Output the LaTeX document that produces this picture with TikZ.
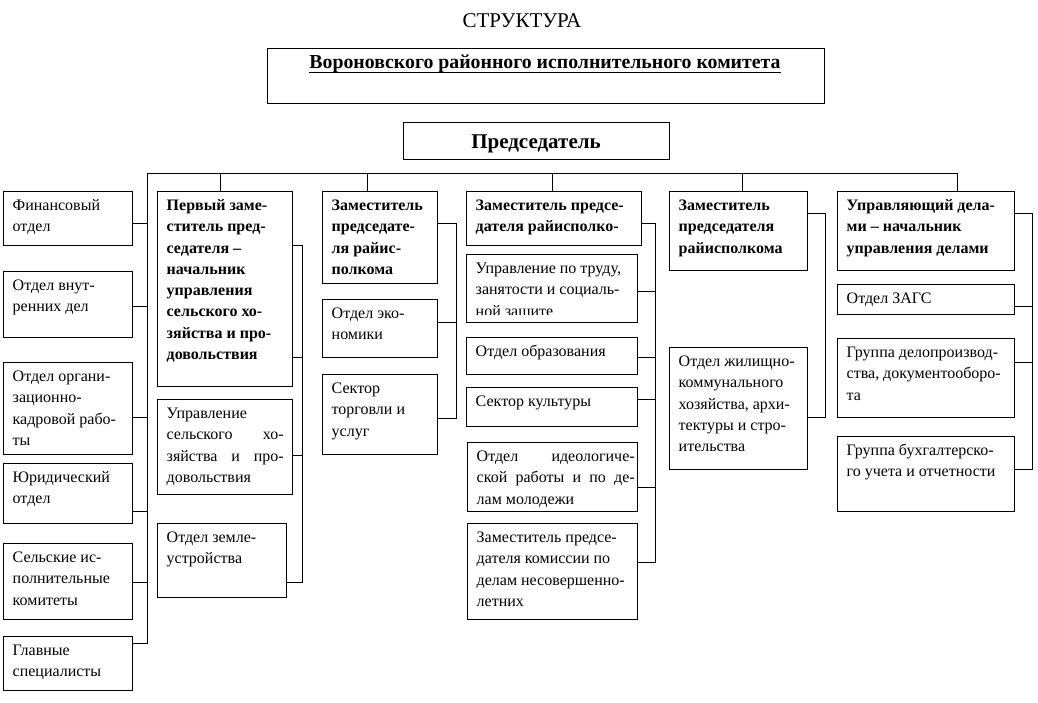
\documentclass[tikz,border=0pt]{standalone}
\usepackage{fontspec}
\setmainfont{Liberation Serif}
\usetikzlibrary{fit}
\newcommand\fsn{\fontsize{16pt}{21.3pt}\selectfont}
\newcommand\fsbn{\fontsize{16pt}{21.3pt}\selectfont\bfseries}
\tikzset{
  boxst/.style={draw, line width=1pt, inner sep=0pt},
  txt/.style={anchor=north west, inner sep=0pt, align=left, font=\fsn},
  btxt/.style={txt, font=\fsbn},
  ln/.style={line width=1pt},
}
\newcommand\bx[7]{%
  \node[boxst, fit={(#2,#3) (#4,#5)}] (#1) {};
  \node[#6] (#1t) at ([xshift=10pt,yshift=-8.2pt]#1.north west) {\rule{0pt}{11.5pt}#7};}
\begin{document}
\begin{tikzpicture}[x=1pt,y=-1pt]
\useasboundingbox (0,0) rectangle (1038,702);
% header
\node[font=\fontsize{21pt}{25pt}\selectfont, anchor=base, inner sep=0pt] (title) at (522,27) {СТРУКТУРА};
\node[boxst, fit={(267,48) (824,103)}] (vrik) {};
\node[font=\fontsize{19.8pt}{22pt}\selectfont\bfseries, anchor=base, inner sep=0pt] (vrikt) at (545,68.5) {Вороновского районного исполнительного комитета};
\draw[line width=1.3pt] ([yshift=-4pt]vrikt.base west) -- ([yshift=-4pt]vrikt.base east);
\node[boxst, fit={(403,122) (669,159)}] (pred) {};
\node[font=\fontsize{21pt}{25pt}\selectfont\bfseries, anchor=base, inner sep=0pt] (predt) at (536,148) {Председатель};
% left column
\bx{fin}{3}{191}{132}{245}{txt}{Финансовый\\отдел}
\bx{vnut}{3}{271}{132}{337}{txt}{Отдел внут-\\ренних дел}
\bx{org}{3}{362}{132}{454}{txt}{Отдел органи-\\зационно-\\кадровой рабо-\\ты}
\bx{yur}{3}{463}{132}{523}{txt}{Юридический\\отдел}
\bx{sel}{3}{543}{132}{619}{txt}{Сельские ис-\\полнительные\\комитеты}
\bx{glav}{3}{636}{132}{690}{txt}{Главные\\специалисты}
% column 2
\bx{perv}{157}{191}{292}{386}{btxt}{Первый заме-\\ститель пред-\\седателя –\\начальник\\управления\\сельского хо-\\зяйства и про-\\довольствия}
\bx{upsh}{157}{399}{292}{494}{txt}{Управление\\\hbox to 117pt{сельского\hfill хо-}\\\hbox to 117pt{зяйства\hfill и\hfill про-}\\довольствия}
\bx{zeml}{157}{523}{286}{597}{txt}{Отдел земле-\\устройства}
% column 3
\bx{zam1}{322}{191}{437}{283}{btxt}{Заместитель\\председате-\\ля райис-\\полкома}
\bx{econ}{322}{299}{437}{357}{txt}{Отдел эко-\\номики}
\bx{torg}{322}{374}{437}{454}{txt}{Сектор\\торговли и\\услуг}
% column 4
\bx{zam2}{466}{191}{641}{245}{btxt}{Заместитель предсе-\\дателя райисполко-}
\node[boxst, fit={(466,254) (637,322)}] (trud) {};
\begin{scope}
\clip (466,254) rectangle (637,314.5);
\node[txt] (trudt) at ([xshift=10pt,yshift=-8.2pt]trud.north west) {\rule{0pt}{11.5pt}Управление по труду,\\занятости и социаль-\\ной защите};
\end{scope}
\bx{obr}{466}{337}{637}{374}{txt}{Отдел образования}
\bx{kult}{466}{387}{637}{426}{txt}{Сектор культуры}
\bx{ideo}{467}{442}{637}{511}{txt}{\hbox to 158pt{Отдел\hfill идеологиче-}\\\hbox to 158pt{ской\hfill работы\hfill и\hfill по\hfill де-}\\лам молодежи}
\bx{kom}{467}{523}{637}{619}{txt}{Заместитель предсе-\\дателя комиссии по\\делам несовершенно-\\летних}
% column 5
\bx{zam3}{669}{191}{807}{270}{btxt}{Заместитель\\председателя\\райисполкома}
\bx{zhil}{669}{347}{807}{469}{txt}{Отдел жилищно-\\коммунального\\хозяйства, архи-\\тектуры и стро-\\ительства}
% column 6
\bx{upr}{837}{191}{1014}{270}{btxt}{Управляющий дела-\\ми – начальник\\управления делами}
\bx{zags}{837}{284}{1014}{314}{txt}{Отдел ЗАГС}
\bx{delo}{837}{338}{1014}{417}{txt}{Группа делопроизвод-\\ства, документооборо-\\та}
\bx{buh}{837}{436}{1014}{511}{txt}{Группа бухгалтерско-\\го учета и отчетности}
% connectors
\draw[ln] (glav.east |- 0,643) -- (147,643) -- (147,173) -- (957,173) -- (upr.north -| 957,0);
\foreach \nn/\yy in {fin/223, vnut/306, org/417, yur/511, sel/582}
  \draw[ln] (\nn.east |- 0,\yy) -- (147,\yy);
\foreach \nn/\xx in {perv/220, zam1/367, zam2/552, zam3/742}
  \draw[ln] (\xx,173) -- (\nn.north -| \xx,0);
\draw[ln] (perv.east |- 0,245) -- (302,245) -- (302,582) -- (zeml.east |- 0,582);
\draw[ln] (perv.east |- 0,357) -- (302,357);
\draw[ln] (upsh.east |- 0,455) -- (302,455);
\draw[ln] (zam1.east |- 0,223) -- (456,223) -- (456,418) -- (torg.east |- 0,418);
\draw[ln] (econ.east |- 0,322) -- (456,322);
\draw[ln] (zam2.east |- 0,223) -- (655,223) -- (655,562) -- (kom.east |- 0,562);
\foreach \nn/\yy in {trud/291, obr/357, kult/399, ideo/487}
  \draw[ln] (\nn.east |- 0,\yy) -- (655,\yy);
\draw[ln] (zam3.east |- 0,213) -- (825,213) -- (825,417) -- (zhil.east |- 0,417);
\draw[ln] (upr.east |- 0,213) -- (1032,213) -- (1032,469) -- (buh.east |- 0,469);
\foreach \nn/\yy in {zags/306, delo/362}
  \draw[ln] (\nn.east |- 0,\yy) -- (1032,\yy);
\end{tikzpicture}
\end{document}
